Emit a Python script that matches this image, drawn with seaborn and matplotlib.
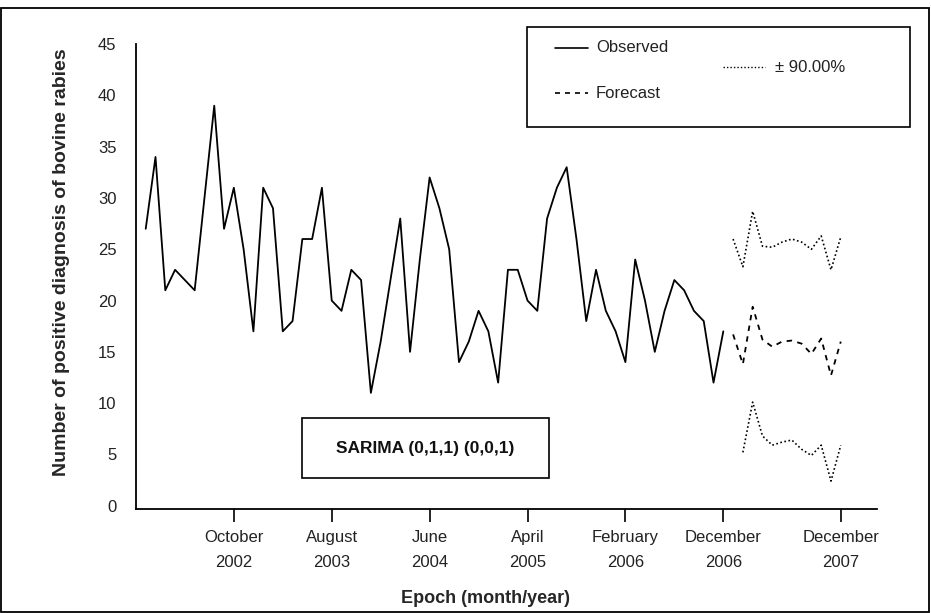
import numpy as np
import pandas as pd
import matplotlib
matplotlib.use("Agg")
import matplotlib.pyplot as plt
from matplotlib.lines import Line2D
from matplotlib.patches import Rectangle
import seaborn as sns

# monthly counts, Jan 2002 .. Dec 2006
observed = [27, 34, 21, 23, 22, 21, 30, 39, 27, 31,
            25, 17, 31, 29, 17, 18, 26, 26, 31, 20,
            19, 23, 22, 11, 16, 22, 28, 15, 24, 32,
            29, 25, 14, 16, 19, 17, 12, 23, 23, 20,
            19, 28, 31, 33, 26, 18, 23, 19, 17, 14,
            24, 20, 15, 19, 22, 21, 19, 18, 12, 17]
# Jan 2007 .. Dec 2007
forecast = [16.7, 13.8, 19.4, 16.2, 15.5, 16.0, 16.1, 15.8, 14.8, 16.3, 12.7, 16.0]
upper = [26.0, 23.3, 28.7, 25.3, 25.2, 25.7, 26.0, 25.7, 25.0, 26.3, 23.0, 26.2]
lower = [None, 5.2, 10.1, 6.8, 5.9, 6.2, 6.4, 5.5, 4.9, 5.9, 2.4, 5.9]

tick_pos = [9, 19, 29, 39, 49, 59, 71]
tick_labels = ["October\n2002", "August\n2003", "June\n2004", "April\n2005",
               "February\n2006", "December\n2006", "December\n2007"]

obs = pd.DataFrame({"month": np.arange(len(observed)), "value": observed})
n0 = len(observed)
fc = pd.DataFrame({"month": np.arange(n0, n0 + len(forecast)),
                   "forecast": forecast, "upper": upper,
                   "lower": pd.to_numeric(pd.Series(lower), errors="coerce")})

sns.set_style("ticks")
plt.rcParams["font.family"] = ["Liberation Sans", "DejaVu Sans"]

W, H = 931, 613
fx = lambda px: px / W
fy = lambda py: 1 - py / H

fig = plt.figure(figsize=(9.31, 6.13), dpi=100)
ax = fig.add_axes([0.146, 0.170, 0.796, 0.758])

sns.lineplot(data=obs, x="month", y="value", color="black", lw=1.3, ax=ax)
sns.lineplot(data=fc, x="month", y="forecast", color="black", lw=1.3,
             ax=ax, linestyle=(0, (3, 3)))
sns.lineplot(data=fc, x="month", y="upper", color="black", lw=1.2,
             ax=ax, linestyle=(0, (1, 1.5)))
sns.lineplot(data=fc.dropna(), x="month", y="lower", color="black", lw=1.2,
             ax=ax, linestyle=(0, (1, 1.5)))

ax.set_xlim(-1.0, 74.7)
ax.set_ylim(-0.3, 45)
ax.set_yticks(range(0, 46, 5))
ax.set_xticks(tick_pos)
ax.set_xticklabels(tick_labels, linespacing=1.9)
ax.tick_params(axis="y", length=0, pad=14, labelsize=12, colors="#222222")
ax.tick_params(axis="x", length=9, width=1.2, pad=6, labelsize=12, colors="black")
for lab in ax.get_xticklabels():
    lab.set_color("#222222")
sns.despine(ax=ax)
for s in ["left", "bottom"]:
    ax.spines[s].set_linewidth(1.3)
    ax.spines[s].set_color("black")

ax.set_xlabel("Epoch (month/year)", fontsize=13, fontweight="bold")
ax.xaxis.set_label_coords((486 - 136) / 741, -0.175)
ax.set_ylabel("Number of positive diagnosis of bovine rabies", fontsize=14,
              fontweight="bold")
ax.yaxis.set_label_coords(-0.089, 0.531)

# model box
fig.patches.append(Rectangle((fx(302), fy(478)), fx(549) - fx(302), fy(418) - fy(478),
                             transform=fig.transFigure, fill=False, ec="black", lw=1.2))
fig.text(fx(425), fy(448), "SARIMA (0,1,1) (0,0,1)", ha="center", va="center",
         fontsize=12.5, fontweight="bold", color="#111111")

# legend box
fig.patches.append(Rectangle((fx(527), fy(127)), fx(910) - fx(527), fy(27) - fy(127),
                             transform=fig.transFigure, fill=False, ec="black", lw=1.2))
fig.add_artist(Line2D([fx(555), fx(588)], [fy(48), fy(48)], color="black", lw=1.2,
                      transform=fig.transFigure))
fig.text(fx(596), fy(48), "Observed", fontsize=12, va="center", color="#222222")
fig.add_artist(Line2D([fx(555), fx(588)], [fy(93), fy(93)], color="black", lw=1.2,
                      linestyle=(0, (3, 3)), transform=fig.transFigure))
fig.text(fx(596), fy(93), "Forecast", fontsize=12, va="center", color="#222222")
fig.add_artist(Line2D([fx(723), fx(765)], [fy(67), fy(67)], color="black", lw=1.0,
                      linestyle=(0, (1, 1.5)), transform=fig.transFigure))
fig.text(fx(775), fy(67), "\u00b1 90.00%", fontsize=12, va="center", color="#222222")

# outer frame
fig.patches.append(Rectangle((0.0015, 0.002), 0.996, 0.985, transform=fig.transFigure,
                             fill=False, ec="black", lw=1.3))

fig.savefig("out.png", dpi=100)
